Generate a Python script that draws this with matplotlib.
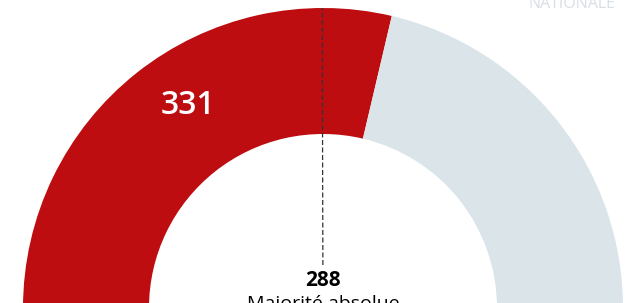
import numpy as np
import matplotlib
matplotlib.use("Agg")
import matplotlib.pyplot as plt
from matplotlib.patches import Wedge

# Data
groups = ["Majorité", "Autres"]
seats = [331, 246]
majority = 288
colors = ["#BE0D10", "#DAE4E9"]
majority_label = "Majorité absolue"
corner_text = "NATIONALE"

total = sum(seats)

W, H = 627, 303
fig = plt.figure(figsize=(W / 100, H / 100), dpi=100)
ax = fig.add_axes([0, 0, 1, 1])
ax.set_xlim(0, W)
ax.set_ylim(0, H)
ax.set_aspect("equal")
ax.axis("off")

cx, cy = 323, -5
R, ring = 300, 126

# Wedges from left (180°) clockwise to right (0°)
start = 180.0
for val, col in zip(seats, colors):
    span = val / total * 180.0
    ax.add_patch(Wedge((cx, cy), R, start - span, start, width=ring,
                       facecolor=col, edgecolor="none", antialiased=True))
    start -= span

# Majority dashed line
th = np.deg2rad(180.0 - majority / total * 180.0)
r0, r1 = 43, R
ax.plot([cx + r0 * np.cos(th), cx + r1 * np.cos(th)],
        [cy + r0 * np.sin(th), cy + r1 * np.sin(th)],
        color="#333333", lw=0.9, ls=(0, (4, 2)), zorder=3)

fam = ["Open Sans", "DejaVu Sans"]
ax.text(188, H - 106, str(seats[0]), color="white", fontsize=23,
        ha="center", va="center", family=fam, fontweight="semibold")

ax.text(cx, H - 280, str(majority), color="black", fontsize=15,
        ha="center", va="center", family=fam, fontweight="bold")
ax.text(cx, H - 304, majority_label, color="black", fontsize=14,
        ha="center", va="center", family=fam)

ax.text(615, H - 8, corner_text, color="#D8DFE6", fontsize=11.5,
        ha="right", va="baseline", family=fam)

fig.savefig("out.png", dpi=100)
